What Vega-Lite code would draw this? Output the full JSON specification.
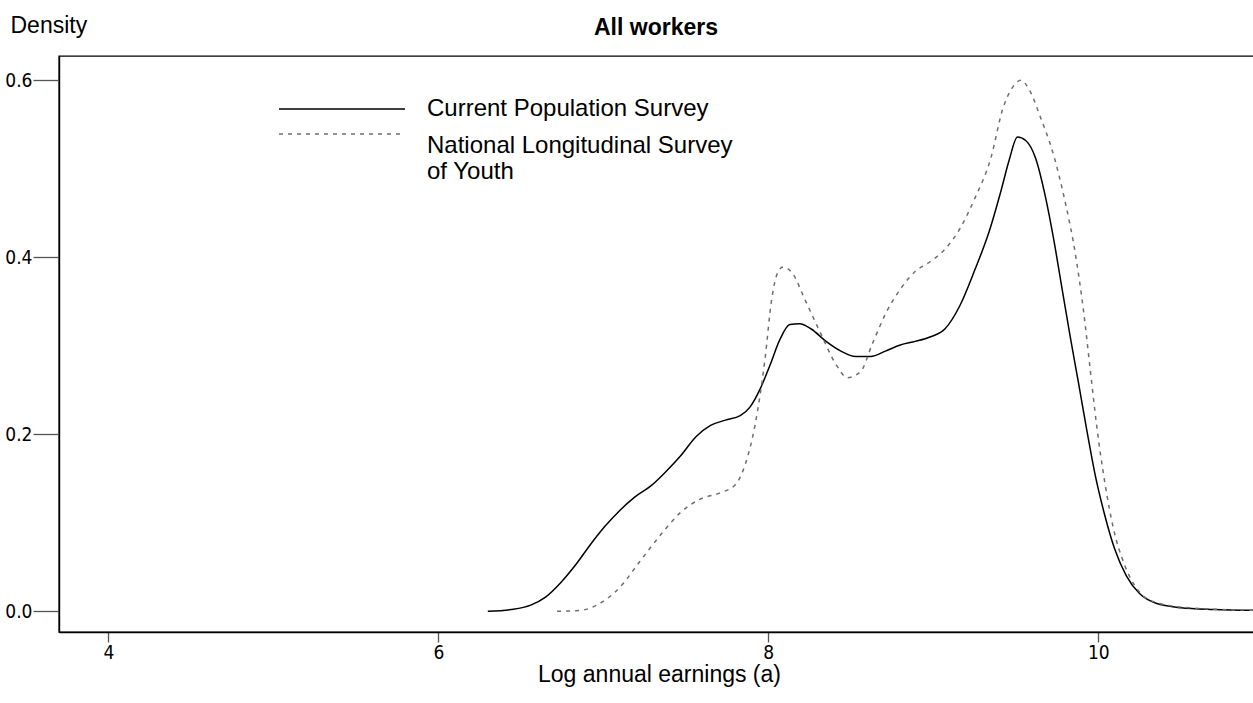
{
  "$schema": "https://vega.github.io/schema/vega-lite/v6.json",
  "width": 1200,
  "height": 576,
  "autosize": "none",
  "padding": {"left": 59, "top": 56, "right": 0, "bottom": 71},
  "background": "white",
  "title": {"text": "All workers", "font": "Liberation Sans", "fontSize": 23, "fontWeight": "bold", "color": "#000", "anchor": "middle", "offset": -26, "dx": -3},
  "config": {
    "view": {"stroke": "#000", "strokeWidth": 1.4},
    "axis": {"grid": false, "domainColor": "#000", "domainWidth": 1.4, "tickColor": "#555", "tickWidth": 1.3, "labelColor": "#000", "labelFont": "DejaVu Sans Condensed, Liberation Sans", "labelFontSize": 19, "titleColor": "#000", "titleFont": "Liberation Sans", "titleFontWeight": "normal"}
  },
  "data": {"values": [
    {"series": "Current Population Survey", "x": 6.30, "density": 0},
    {"series": "Current Population Survey", "x": 6.44, "density": 0.002},
    {"series": "Current Population Survey", "x": 6.56, "density": 0.007},
    {"series": "Current Population Survey", "x": 6.65, "density": 0.016},
    {"series": "Current Population Survey", "x": 6.74, "density": 0.032},
    {"series": "Current Population Survey", "x": 6.83, "density": 0.052},
    {"series": "Current Population Survey", "x": 6.92, "density": 0.075},
    {"series": "Current Population Survey", "x": 7.01, "density": 0.096},
    {"series": "Current Population Survey", "x": 7.10, "density": 0.114},
    {"series": "Current Population Survey", "x": 7.19, "density": 0.129},
    {"series": "Current Population Survey", "x": 7.29, "density": 0.142},
    {"series": "Current Population Survey", "x": 7.38, "density": 0.158},
    {"series": "Current Population Survey", "x": 7.47, "density": 0.176},
    {"series": "Current Population Survey", "x": 7.56, "density": 0.197},
    {"series": "Current Population Survey", "x": 7.65, "density": 0.210},
    {"series": "Current Population Survey", "x": 7.74, "density": 0.216},
    {"series": "Current Population Survey", "x": 7.83, "density": 0.221},
    {"series": "Current Population Survey", "x": 7.89, "density": 0.231},
    {"series": "Current Population Survey", "x": 7.95, "density": 0.251},
    {"series": "Current Population Survey", "x": 8.01, "density": 0.278},
    {"series": "Current Population Survey", "x": 8.07, "density": 0.307},
    {"series": "Current Population Survey", "x": 8.13, "density": 0.324},
    {"series": "Current Population Survey", "x": 8.19, "density": 0.325},
    {"series": "Current Population Survey", "x": 8.26, "density": 0.319},
    {"series": "Current Population Survey", "x": 8.35, "density": 0.305},
    {"series": "Current Population Survey", "x": 8.44, "density": 0.294},
    {"series": "Current Population Survey", "x": 8.53, "density": 0.288},
    {"series": "Current Population Survey", "x": 8.62, "density": 0.288},
    {"series": "Current Population Survey", "x": 8.71, "density": 0.294},
    {"series": "Current Population Survey", "x": 8.80, "density": 0.301},
    {"series": "Current Population Survey", "x": 8.89, "density": 0.305},
    {"series": "Current Population Survey", "x": 8.98, "density": 0.310},
    {"series": "Current Population Survey", "x": 9.07, "density": 0.319},
    {"series": "Current Population Survey", "x": 9.16, "density": 0.345},
    {"series": "Current Population Survey", "x": 9.25, "density": 0.385},
    {"series": "Current Population Survey", "x": 9.34, "density": 0.430},
    {"series": "Current Population Survey", "x": 9.41, "density": 0.475},
    {"series": "Current Population Survey", "x": 9.46, "density": 0.510},
    {"series": "Current Population Survey", "x": 9.51, "density": 0.536},
    {"series": "Current Population Survey", "x": 9.56, "density": 0.532},
    {"series": "Current Population Survey", "x": 9.62, "density": 0.512},
    {"series": "Current Population Survey", "x": 9.68, "density": 0.468},
    {"series": "Current Population Survey", "x": 9.73, "density": 0.420},
    {"series": "Current Population Survey", "x": 9.78, "density": 0.365},
    {"series": "Current Population Survey", "x": 9.83, "density": 0.310},
    {"series": "Current Population Survey", "x": 9.88, "density": 0.258},
    {"series": "Current Population Survey", "x": 9.93, "density": 0.205},
    {"series": "Current Population Survey", "x": 9.98, "density": 0.155},
    {"series": "Current Population Survey", "x": 10.04, "density": 0.108},
    {"series": "Current Population Survey", "x": 10.10, "density": 0.070},
    {"series": "Current Population Survey", "x": 10.17, "density": 0.040},
    {"series": "Current Population Survey", "x": 10.25, "density": 0.020},
    {"series": "Current Population Survey", "x": 10.35, "density": 0.009},
    {"series": "Current Population Survey", "x": 10.50, "density": 0.004},
    {"series": "Current Population Survey", "x": 10.70, "density": 0.002},
    {"series": "Current Population Survey", "x": 10.97, "density": 0.001},
    {"series": "National Longitudinal Survey of Youth", "x": 6.72, "density": 0},
    {"series": "National Longitudinal Survey of Youth", "x": 6.86, "density": 0.001},
    {"series": "National Longitudinal Survey of Youth", "x": 6.98, "density": 0.009},
    {"series": "National Longitudinal Survey of Youth", "x": 7.10, "density": 0.027},
    {"series": "National Longitudinal Survey of Youth", "x": 7.22, "density": 0.056},
    {"series": "National Longitudinal Survey of Youth", "x": 7.35, "density": 0.087},
    {"series": "National Longitudinal Survey of Youth", "x": 7.47, "density": 0.112},
    {"series": "National Longitudinal Survey of Youth", "x": 7.59, "density": 0.127},
    {"series": "National Longitudinal Survey of Youth", "x": 7.71, "density": 0.134},
    {"series": "National Longitudinal Survey of Youth", "x": 7.80, "density": 0.143},
    {"series": "National Longitudinal Survey of Youth", "x": 7.86, "density": 0.166},
    {"series": "National Longitudinal Survey of Youth", "x": 7.92, "density": 0.211},
    {"series": "National Longitudinal Survey of Youth", "x": 7.98, "density": 0.285},
    {"series": "National Longitudinal Survey of Youth", "x": 8.02, "density": 0.352},
    {"series": "National Longitudinal Survey of Youth", "x": 8.06, "density": 0.384},
    {"series": "National Longitudinal Survey of Youth", "x": 8.09, "density": 0.389},
    {"series": "National Longitudinal Survey of Youth", "x": 8.15, "density": 0.381},
    {"series": "National Longitudinal Survey of Youth", "x": 8.22, "density": 0.353},
    {"series": "National Longitudinal Survey of Youth", "x": 8.32, "density": 0.313},
    {"series": "National Longitudinal Survey of Youth", "x": 8.41, "density": 0.279},
    {"series": "National Longitudinal Survey of Youth", "x": 8.48, "density": 0.264},
    {"series": "National Longitudinal Survey of Youth", "x": 8.56, "density": 0.271},
    {"series": "National Longitudinal Survey of Youth", "x": 8.63, "density": 0.302},
    {"series": "National Longitudinal Survey of Youth", "x": 8.71, "density": 0.336},
    {"series": "National Longitudinal Survey of Youth", "x": 8.80, "density": 0.364},
    {"series": "National Longitudinal Survey of Youth", "x": 8.89, "density": 0.384},
    {"series": "National Longitudinal Survey of Youth", "x": 8.98, "density": 0.395},
    {"series": "National Longitudinal Survey of Youth", "x": 9.07, "density": 0.409},
    {"series": "National Longitudinal Survey of Youth", "x": 9.16, "density": 0.432},
    {"series": "National Longitudinal Survey of Youth", "x": 9.25, "density": 0.466},
    {"series": "National Longitudinal Survey of Youth", "x": 9.35, "density": 0.513},
    {"series": "National Longitudinal Survey of Youth", "x": 9.42, "density": 0.567},
    {"series": "National Longitudinal Survey of Youth", "x": 9.48, "density": 0.592},
    {"series": "National Longitudinal Survey of Youth", "x": 9.53, "density": 0.600},
    {"series": "National Longitudinal Survey of Youth", "x": 9.58, "density": 0.590},
    {"series": "National Longitudinal Survey of Youth", "x": 9.65, "density": 0.558},
    {"series": "National Longitudinal Survey of Youth", "x": 9.73, "density": 0.515},
    {"series": "National Longitudinal Survey of Youth", "x": 9.80, "density": 0.462},
    {"series": "National Longitudinal Survey of Youth", "x": 9.86, "density": 0.405},
    {"series": "National Longitudinal Survey of Youth", "x": 9.91, "density": 0.340},
    {"series": "National Longitudinal Survey of Youth", "x": 9.95, "density": 0.275},
    {"series": "National Longitudinal Survey of Youth", "x": 9.99, "density": 0.210},
    {"series": "National Longitudinal Survey of Youth", "x": 10.04, "density": 0.145},
    {"series": "National Longitudinal Survey of Youth", "x": 10.09, "density": 0.095},
    {"series": "National Longitudinal Survey of Youth", "x": 10.16, "density": 0.052},
    {"series": "National Longitudinal Survey of Youth", "x": 10.24, "density": 0.024},
    {"series": "National Longitudinal Survey of Youth", "x": 10.35, "density": 0.010},
    {"series": "National Longitudinal Survey of Youth", "x": 10.55, "density": 0.004},
    {"series": "National Longitudinal Survey of Youth", "x": 10.97, "density": 0.001}
  ]},
  "encoding": {
    "x": {"field": "x", "type": "quantitative", "scale": {"domain": [3.701, 10.974], "nice": false, "zero": false},
      "axis": {"values": [4, 6, 8, 10], "tickSize": 10, "labelPadding": 1, "labelBaseline": "top", "title": "Log annual earnings (a)", "titleFontSize": 23, "titlePadding": 1}},
    "y": {"field": "density", "type": "quantitative", "scale": {"domain": [-0.0234, 0.6275], "nice": false, "zero": false},
      "axis": {"values": [0, 0.2, 0.4, 0.6], "format": ".1f", "tickSize": 26, "labelPadding": 1, "title": "Density", "titleAngle": 0, "titleFontSize": 23, "titleAlign": "left", "titleBaseline": "alphabetic", "titleX": -49, "titleY": -24}}
  },
  "layer": [
    {
      "transform": [{"filter": "datum.series === 'Current Population Survey'"}],
      "mark": {"type": "line", "interpolate": "monotone", "strokeWidth": 1.5},
      "encoding": {
        "color": {"field": "series", "type": "nominal", "scale": {"domain": ["Current Population Survey"], "range": ["#000"]},
          "legend": {"orient": "none", "legendX": 219, "legendY": -11, "title": null, "padding": 0, "symbolType": "stroke", "symbolSize": 15876, "symbolStrokeWidth": 1.4, "labelFont": "Liberation Sans", "labelFontSize": 24, "labelColor": "#000", "labelOffset": 21, "labelLimit": 600}}
      }
    },
    {
      "transform": [{"filter": "datum.series === 'National Longitudinal Survey of Youth'"}],
      "mark": {"type": "line", "interpolate": "monotone", "strokeWidth": 1.5, "color": "#6e6e6e"},
      "encoding": {
        "strokeDash": {"field": "series", "type": "nominal", "scale": {"domain": ["National Longitudinal Survey of Youth"], "range": [[4, 5]]},
          "legend": {"orient": "none", "legendX": 219, "legendY": 14, "title": null, "padding": 0, "symbolType": "stroke", "symbolSize": 15876, "symbolStrokeWidth": 1.4, "symbolStrokeColor": "#6e6e6e", "labelFont": "Liberation Sans", "labelFontSize": 24, "labelColor": "#000", "labelOffset": 21, "labelLimit": 600, "labelBaseline": "top",
            "labelExpr": "datum.label === 'National Longitudinal Survey of Youth' ? ['National Longitudinal Survey', '\u2002of Youth'] : datum.label"}}
      }
    }
  ]
}
